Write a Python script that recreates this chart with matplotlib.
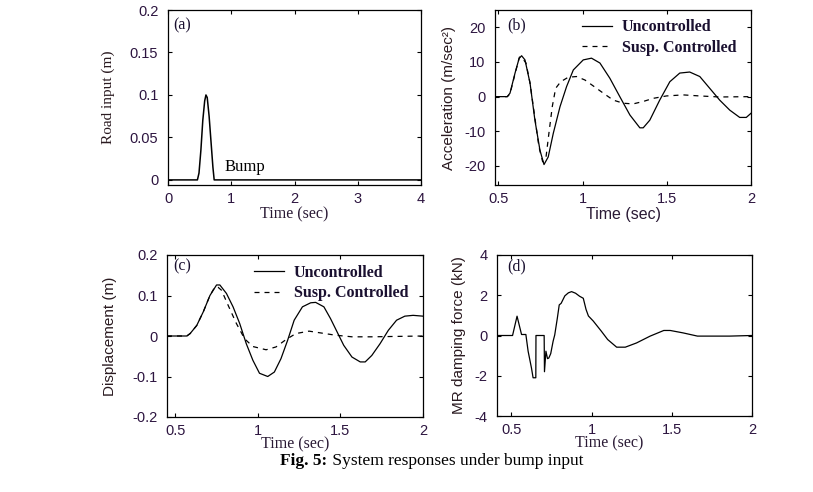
#!/usr/bin/env python3
# -*- coding: utf-8 -*-

"""Fig. 5 重绘：bump 输入下的系统响应（MATLAB 风格四宫格）。"""

import matplotlib
matplotlib.use('Agg')
import matplotlib.pyplot as plt
from matplotlib.ticker import FormatStrFormatter

# (a) road input
t_road = [0, 0.465, 0.49, 0.52, 0.55, 0.58, 0.60, 0.62, 0.65, 0.68, 0.71, 0.73, 4.0]
road = [0, 0, 0.008, 0.035, 0.07, 0.093, 0.1, 0.097, 0.075, 0.045, 0.015, 0, 0]

# (b) body acceleration
t_acc_u = [0.48, 0.553, 0.569, 0.599, 0.623, 0.638, 0.658, 0.688, 0.717, 0.747,
           0.771, 0.796, 0.826, 0.866, 0.905, 0.945, 1.004, 1.053, 1.103, 1.162,
           1.221, 1.281, 1.340, 1.36, 1.399, 1.458, 1.518, 1.577, 1.636, 1.696,
           1.755, 1.814, 1.874, 1.933, 1.972, 2.0]
acc_u = [0, 0, 1, 6.8, 11, 11.8, 10.6, 3.9, -6.8, -15.5,
         -19.6, -17.4, -10.6, -2.9, 2.9, 7.7, 10.6, 11.1, 9.7, 5.3,
         0, -5.3, -9.0, -9.0, -6.8, -1, 4.3, 6.8, 7.1, 5.8,
         2.4, -1, -3.9, -6.0, -6.0, -4.8]
t_acc_c = [0.48, 0.553, 0.569, 0.599, 0.625, 0.638, 0.664, 0.688, 0.713, 0.741,
           0.763, 0.783, 0.80, 0.82, 0.84, 0.87, 0.915, 0.964, 1.014, 1.063,
           1.123, 1.182, 1.241, 1.30, 1.36, 1.419, 1.498, 1.597, 1.696, 1.814, 2.0]
acc_c = [0, 0, 0.8, 6.6, 11.4, 11.4, 9.7, 3.9, -4.8, -14.5,
         -18.8, -17.4, -10.6, -2.9, 2.4, 4.3, 5.6, 5.8, 4.8, 3.1,
         1.0, -1.0, -1.9, -2.1, -1.4, -0.5, 0.2, 0.5, 0.2, -0.1, 0]

# (c) body displacement
t_dis_u = [0.45, 0.57, 0.59, 0.63, 0.67, 0.71, 0.75, 0.77, 0.81, 0.85,
           0.89, 0.93, 0.97, 1.01, 1.06, 1.10, 1.14, 1.18, 1.22, 1.27,
           1.32, 1.35, 1.40, 1.44, 1.48, 1.52, 1.57, 1.62, 1.65, 1.69,
           1.74, 1.79, 1.84, 1.89, 1.94, 2.0]
dis_u = [0, 0, 0.006, 0.026, 0.06, 0.10, 0.126, 0.126, 0.105, 0.072,
         0.031, -0.019, -0.06, -0.092, -0.10, -0.089, -0.056, -0.011, 0.039, 0.072,
         0.082, 0.083, 0.072, 0.043, 0.01, -0.023, -0.052, -0.064, -0.064, -0.048,
         -0.019, 0.014, 0.039, 0.049, 0.051, 0.049]
t_dis_c = [0.45, 0.57, 0.59, 0.63, 0.67, 0.71, 0.74, 0.76, 0.78, 0.82,
           0.87, 0.92, 0.97, 1.05, 1.11, 1.17, 1.23, 1.31, 1.39, 1.47,
           1.57, 1.69, 2.0]
dis_c = [0, 0, 0.006, 0.026, 0.06, 0.1, 0.121, 0.12, 0.113, 0.076,
         0.031, -0.007, -0.026, -0.034, -0.027, -0.009, 0.006, 0.012, 0.007, 0.002,
         -0.002, -0.002, 0]

# (d) MR damper force
t_mr = [0.41, 0.507, 0.535, 0.563, 0.59, 0.604, 0.625, 0.635, 0.652, 0.653,
        0.704, 0.706, 0.715, 0.725, 0.733, 0.745, 0.76, 0.77, 0.786, 0.798,
        0.81, 0.833, 0.855, 0.875, 0.90, 0.925, 0.948, 0.965, 0.98, 1.01,
        1.06, 1.10, 1.156, 1.21, 1.28, 1.365, 1.45, 1.49, 1.57, 1.66,
        1.86, 2.0]
mr = [0, 0, 0.96, 0.05, 0.05, -0.78, -1.62, -2.1, -2.1, 0,
      0, -1.8, -0.78, -1.15, -1.12, -0.9, -0.28, 0.03, 0.85, 1.52,
      1.6, 1.97, 2.12, 2.18, 2.1, 1.95, 1.85, 1.3, 0.97, 0.72,
      0.22, -0.2, -0.58, -0.58, -0.37, -0.03, 0.25, 0.25, 0.13, -0.03,
      -0.03, 0]

W, H = 813, 492
SERIF = 'Liberation Serif'
SANS = 'Liberation Sans'
TICK_C = '#2d1540'
DASH = (0, (4, 4))


def _rect(l, t, r, b):
    """像素框 -> figure 坐标。"""
    return [l / W, 1 - b / H, (r - l) / W, (b - t) / H]


def _style(ax, xlim, ylim, xticks, yticks):
    ax.set_xlim(*xlim)
    ax.set_ylim(*ylim)
    ax.set_xticks(xticks)
    ax.set_yticks(yticks)
    ax.xaxis.set_major_formatter(FormatStrFormatter('%g'))
    ax.yaxis.set_major_formatter(FormatStrFormatter('%g'))
    ax.tick_params(direction='in', length=3, width=0.8, top=True, right=True,
                   labelsize=10.5, labelcolor=TICK_C)
    ax.tick_params(axis='x', pad=5)
    ax.tick_params(axis='y', pad=7)
    for lb in ax.get_xticklabels() + ax.get_yticklabels():
        lb.set_family(SANS)
    for s in ax.spines.values():
        s.set_linewidth(0.9)


def _labels(ax, xlab, xfam, xpos, ylab, yfam, ypos):
    ax.set_xlabel(xlab, family=xfam, fontsize=11.5, color='#2a1a35')
    ax.set_ylabel(ylab, family=yfam, fontsize=11, color='#2a1a20')
    ax.xaxis.set_label_coords(*xpos)
    ax.yaxis.set_label_coords(*ypos)
    ax.xaxis.label.set_va('center')
    ax.yaxis.label.set_va('center')


def _legend(ax):
    ax.legend(loc='upper left', bbox_to_anchor=(0.29, 1.02), frameon=False,
              prop={'family': SERIF, 'weight': 'bold', 'size': 11.5},
              handlelength=1.9, handletextpad=0.6, labelspacing=0.3,
              borderpad=0.3, labelcolor='#1a1030')


def _caption(fig, xc, y, bold, rest, size=12.5):
    # 粗体前缀 + 常规正文，两段拼接后整体居中
    r = fig.canvas.get_renderer()
    t1 = fig.text(0, y, bold, family=SERIF, weight='bold', fontsize=size, va='center')
    t2 = fig.text(0, y, ' ' + rest, family=SERIF, fontsize=size, va='center')
    w1 = t1.get_window_extent(r).width / W
    w2 = t2.get_window_extent(r).width / W
    x0 = xc - (w1 + w2) / 2
    t1.set_x(x0)
    t2.set_x(x0 + w1)


def main():
    fig = plt.figure(figsize=(W / 100, H / 100), dpi=100)

    # (a) 路面输入
    ax = fig.add_axes(_rect(168, 10, 421, 185))
    ax.plot(t_road, road, '-', color='k', lw=1.1)
    _style(ax, (0, 4), (-0.006, 0.2), [0, 1, 2, 3, 4], [0, 0.05, 0.1, 0.15, 0.2])
    _labels(ax, 'Time (sec)', SERIF, (0.5, -0.17), 'Road input (m)', SERIF, (-0.237, 0.5))
    ax.text(0.02, 0.914, '(a)', transform=ax.transAxes, family=SERIF, fontsize=11.5,
            color='#1a1030', va='center')
    ax.text(0.9, 0.015, 'Bump', family=SERIF, fontsize=12, va='center')

    # (b) 加速度
    ax = fig.add_axes(_rect(495, 10, 751, 185))
    ax.plot(t_acc_u, acc_u, '-', color='k', lw=0.9, label='Uncontrolled')
    ax.plot(t_acc_c, acc_c, linestyle=DASH, color='k', lw=0.9, label='Susp. Controlled')
    _style(ax, (0.48, 2), (-25.5, 25), [0.5, 1, 1.5, 2], [-20, -10, 0, 10, 20])
    _labels(ax, 'Time (sec)', SANS, (0.5, -0.168), 'Acceleration (m/sec²)', SANS, (-0.18, 0.5))
    ax.text(0.047, 0.914, '(b)', transform=ax.transAxes, family=SERIF, fontsize=11.5,
            color='#1a1030', va='center')
    _legend(ax)

    # (c) 位移
    ax = fig.add_axes(_rect(167, 255, 423, 417))
    ax.plot(t_dis_u, dis_u, '-', color='k', lw=0.9, label='Uncontrolled')
    ax.plot(t_dis_c, dis_c, linestyle=DASH, color='k', lw=0.9, label='Susp. Controlled')
    _style(ax, (0.45, 2), (-0.2, 0.2), [0.5, 1, 1.5, 2], [-0.2, -0.1, 0, 0.1, 0.2])
    _labels(ax, 'Time (sec)', SERIF, (0.5, -0.172), 'Displacement (m)', SANS, (-0.223, 0.5))
    ax.text(0.023, 0.93, '(c)', transform=ax.transAxes, family=SERIF, fontsize=11.5,
            color='#1a1030', va='center')
    _legend(ax)

    # (d) MR 阻尼力
    ax = fig.add_axes(_rect(497, 255, 752, 416))
    ax.plot(t_mr, mr, '-', color='k', lw=0.9)
    _style(ax, (0.41, 2), (-4, 4), [0.5, 1, 1.5, 2], [-4, -2, 0, 2, 4])
    _labels(ax, 'Time (sec)', SERIF, (0.44, -0.173), 'MR damping force (kN)', SANS, (-0.149, 0.5))
    ax.text(0.04, 0.93, '(d)', transform=ax.transAxes, family=SERIF, fontsize=11.5,
            color='#1a1030', va='center')

    _caption(fig, 0.531, 0.062, 'Fig. 5:', 'System responses under bump input')

    fig.savefig('out.png', dpi=100)


if __name__ == '__main__':
    main()
